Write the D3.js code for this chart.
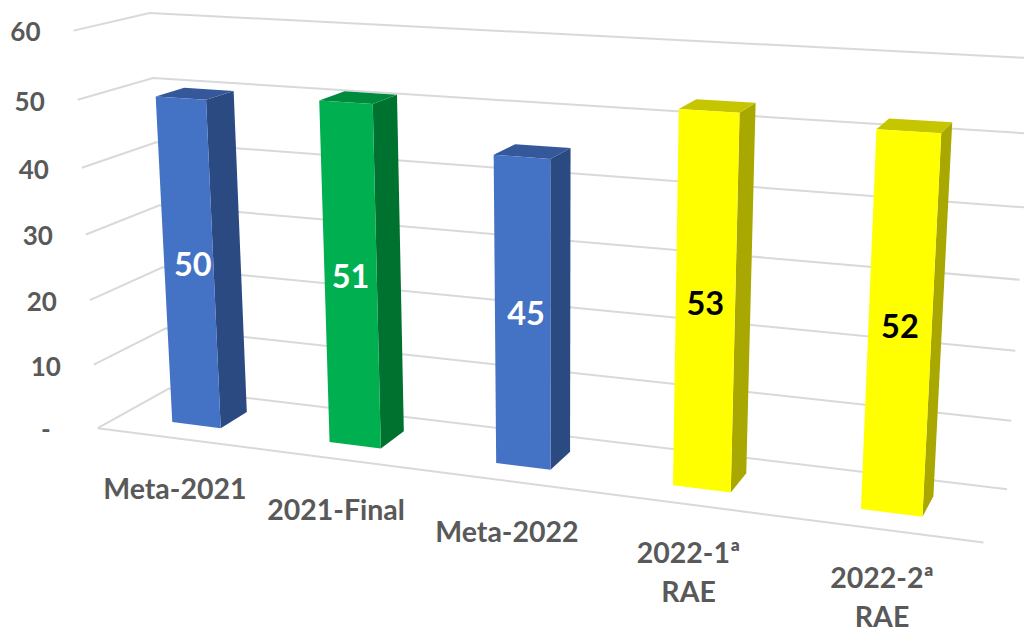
<!DOCTYPE html><html><head><meta charset="utf-8"><script src="https://cdn.jsdelivr.net/npm/d3@7"></script>
<style>body{margin:0;background:#fff}svg{display:block}text{font-family:Lato,sans-serif;font-weight:700}</style></head><body><svg width="1024" height="628"></svg>
<script>
const categories=["Meta-2021","2021-Final","Meta-2022","2022-1ª RAE","2022-2ª RAE"];
const values=[50,51,45,53,52];
const tickValues=[0,10,20,30,40,50,60];
const barPalette=["blue","green","blue","yellow","yellow"];
const labelColors=["#fff","#fff","#fff","#000","#000"];
const shades={blue:{front:"#4472C4",side:"#2B4A82",top:"#34589A"},green:{front:"#00B050",side:"#00722F",top:"#008A3E"},yellow:{front:"#FFFF00",side:"#A8A800",top:"#C6C600"}};

// camera: homogeneous projection of the unit box (u across, v up, z into the page)
const cam={x:[746.72,-27.90,81.37,97.73],y:[37.62,-399.05,-16.05,428.15],w:[-0.14140,-0.05008,0.06072,1]};
const project=(u,v,z)=>{const d=(r)=>r[0]*u+r[1]*v+r[2]*z+r[3],w=d(cam.w);return [d(cam.x)/w,d(cam.y)/w];};

const u=d3.scaleBand().domain(categories).range([0,1]).paddingInner(.686).paddingOuter(.343);
const v=d3.scaleLinear().domain([0,60]).range([0,1]);
const z=d3.scaleLinear().domain([0,1]).range([.3055,.6987]); // bar depth within the floor
const labelNudge=[4,0,3.5,0,0]; // data labels on the blue bars sit right of centre

const svg=d3.select("svg");
const line=d3.line();
const poly=pts=>line(pts)+"Z";

const grid=svg.append("g").attr("fill","none").attr("stroke","#D9D9D9").attr("stroke-width",2);
grid.selectAll("path.g").data(tickValues).join("path").attr("class","g")
  .attr("d",t=>line([project(0,v(t),0),project(0,v(t),1),project(1,v(t),1)]));
grid.append("path").attr("d",line([project(0,0,0),project(1,0,0)]));

svg.append("g").attr("fill","#595959").attr("font-size",26).attr("text-anchor","end")
 .selectAll("text").data(tickValues).join("text")
 .attr("x",t=>project(0,v(t),0)[0]-(t===0?47:33))
 .attr("y",t=>project(0,v(t),0)[1]+1.5).attr("dy",".36em")
 .text(t=>t===0?"-":t);

const bars=svg.append("g").selectAll("g").data(categories).join("g");
bars.each(function(c,i){
  const g=d3.select(this),s=shades[barPalette[i]],l=u(c),r=l+u.bandwidth(),t=v(values[i]),zf=z(0),zb=z(1);
  g.append("path").attr("fill",s.side).attr("d",poly([project(r,0,zf),project(r,0,zb),project(r,t,zb),project(r,t,zf)]));
  g.append("path").attr("fill",s.top).attr("d",poly([project(l,t,zf),project(r,t,zf),project(r,t,zb),project(l,t,zb)]));
  g.append("path").attr("fill",s.front).attr("d",poly([project(l,0,zf),project(r,0,zf),project(r,t,zf),project(l,t,zf)]));
  const m=project(l+u.bandwidth()/2,t/2,zf);
  g.append("text").attr("x",m[0]+labelNudge[i]).attr("y",m[1]-1).attr("dy",".36em").attr("text-anchor","middle")
   .attr("font-size",32.5).attr("fill",labelColors[i]).text(values[i]);
});

svg.append("g").attr("fill","#595959").attr("font-size",28.5).attr("text-anchor","middle")
 .selectAll("text").data(categories).join("text")
 .each(function(c){
   const p=project(u(c)+u.bandwidth()/2,0,0),el=d3.select(this),parts=c.split(" ");
   const top=p[1]+(parts.length>1?48.5:50.5);
   parts.forEach((w,k)=>el.append("tspan").attr("x",p[0]).attr("y",top+k*38.5).attr("dy",".36em").text(w));
 });
</script></body></html>
